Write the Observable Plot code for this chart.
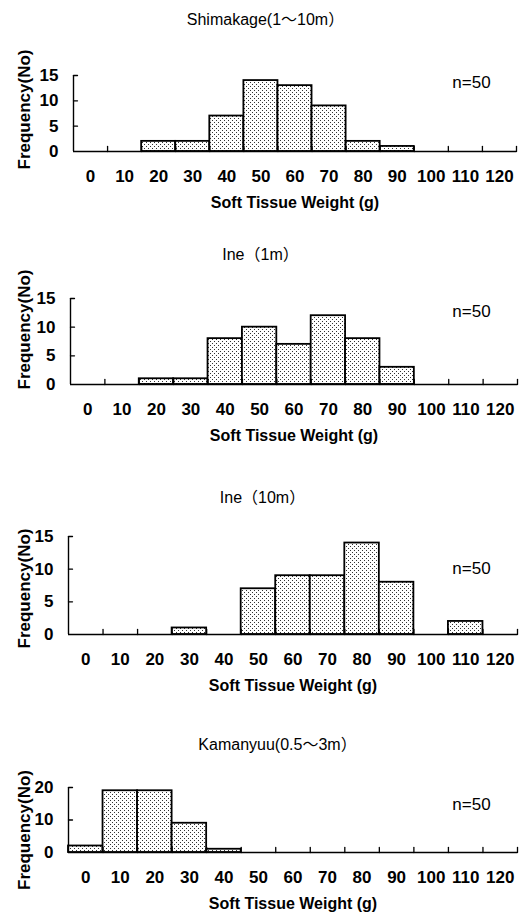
<!DOCTYPE html>
<html>
<head>
<meta charset="utf-8">
<script src="https://cdn.jsdelivr.net/npm/d3@7"></script>
<script src="https://cdn.jsdelivr.net/npm/@observablehq/plot@0.6"></script>
<style>
  body { margin: 0; background: white; }
  #chart { position: relative; width: 529px; height: 919px; background: white; }
  #chart svg.plot-panel { position: absolute; left: 0; }
</style>
</head>
<body>
<svg width="0" height="0" style="position:absolute">
  <defs>
    <pattern id="dots" width="4" height="4" patternUnits="userSpaceOnUse">
      <rect x="0" y="0" width="4" height="4" fill="white"/>
      <rect x="0" y="0" width="1" height="1" fill="#333"/>
      <rect x="2" y="2" width="1" height="1" fill="#333"/>
    </pattern>
  </defs>
</svg>
<div id="chart"></div>
<script>
// ---- data ----
const bins = [0, 10, 20, 30, 40, 50, 60, 70, 80, 90, 100, 110, 120];
const binEdges = [5, 15, 25, 35, 45, 55, 65, 75, 85, 95, 105, 115, 125];
const titles = ["Shimakage(1〜10m）", "Ine（1m）", "Ine（10m）", "Kamanyuu(0.5〜3m）"];
const shimakage = [0, 0, 2, 2, 7, 14, 13, 9, 2, 1, 0, 0, 0];
const ine1m     = [0, 0, 1, 1, 8, 10, 7, 12, 8, 3, 0, 0, 0];
const ine10m    = [0, 0, 0, 1, 0, 7, 9, 9, 14, 8, 0, 2, 0];
const kamanyuu  = [2, 19, 19, 9, 1, 0, 0, 0, 0, 0, 0, 0, 0];
const yTicksA = [0, 5, 10, 15];
const yTicksB = [0, 10, 20];
const nLabel = "n=50";
const xLabel = "Soft Tissue Weight (g)";
const yLabel = "Frequency(No)";

// ---- layout per panel ----
const panels = [
  {title: titles[0], counts: shimakage, ymax: 15, yticks: yTicksA, top: 0,   mt: 75, ph: 76, mb: 64, ml: 73, mr: 13, titleX: 265, titleDy: -56, nDy: 7,  yDy: -4},
  {title: titles[1], counts: ine1m,     ymax: 15, yticks: yTicksA, top: 215, mt: 83, ph: 86, mb: 64, ml: 70, mr: 12, titleX: 260, titleDy: -44, nDy: 13, yDy: -12},
  {title: titles[2], counts: ine10m,    ymax: 15, yticks: yTicksA, top: 448, mt: 88, ph: 98, mb: 64, ml: 68, mr: 12, titleX: 262, titleDy: -39, nDy: 32, yDy: 3},
  {title: titles[3], counts: kamanyuu,  ymax: 20, yticks: yTicksB, top: 698, mt: 89, ph: 65, mb: 67, ml: 68, mr: 12, titleX: 277, titleDy: -43, nDy: 17, yDy: 10}
];

const FONT = "'Liberation Sans', Arial, 'Noto Sans CJK JP', sans-serif";
const tickShape = {draw(context, l) { context.moveTo(0, 0); context.lineTo(0, -l); }};

function panel(p) {
  const data = bins.map((b, i) => ({bin: b, count: p.counts[i]})).filter(d => d.count > 0);
  return Plot.plot({
    width: 529,
    height: p.mt + p.ph + p.mb,
    marginTop: p.mt, marginBottom: p.mb, marginLeft: p.ml, marginRight: p.mr,
    style: {fontFamily: FONT, fontSize: "17px", fontWeight: "bold", color: "black", background: "transparent"},
    x: {domain: [-5, 125], ticks: bins, tickSize: 0, tickPadding: 18, label: null, tickFormat: d => String(d)},
    y: {domain: [0, p.ymax], ticks: p.yticks, tickSize: 0, tickPadding: 15, label: null},
    marks: [
      Plot.rect(data, {x1: d => d.bin - 5, x2: d => d.bin + 5, y1: 0, y2: "count", fill: "url(#dots)", stroke: "black", strokeWidth: 1.8}),
      Plot.ruleY([0], {strokeWidth: 1.6}),
      Plot.ruleX([-5], {strokeWidth: 1.4}),
      Plot.vector(binEdges, {x: d => d, y: 0, length: 5, anchor: "start", shape: tickShape, strokeWidth: 1.3}),
      Plot.vector(p.yticks.filter(v => v > 0), {x: -5, y: d => d, length: 4, rotate: 90, anchor: "start", shape: tickShape, strokeWidth: 1.3}),
      Plot.text([p.title], {frameAnchor: "top-left", dx: p.titleX - p.ml, dy: p.titleDy, textAnchor: "middle", lineAnchor: "middle", fontSize: 16, fontWeight: "normal"}),
      Plot.text([nLabel], {frameAnchor: "top-left", dx: 471 - p.ml, dy: p.nDy, textAnchor: "middle", lineAnchor: "middle", fontSize: 17, fontWeight: "normal"}),
      Plot.text([xLabel], {frameAnchor: "bottom", dy: 45, lineAnchor: "top", fontSize: 16}),
      Plot.text([yLabel], {frameAnchor: "left", dx: 24 - p.ml, dy: p.yDy, rotate: -90, textAnchor: "middle", lineAnchor: "middle", fontSize: 17})
    ]
  });
}

const chart = document.getElementById("chart");
for (const p of panels) {
  const svg = panel(p);
  svg.classList.add("plot-panel");
  svg.style.top = p.top + "px";
  chart.appendChild(svg);
}
</script>
</body>
</html>
